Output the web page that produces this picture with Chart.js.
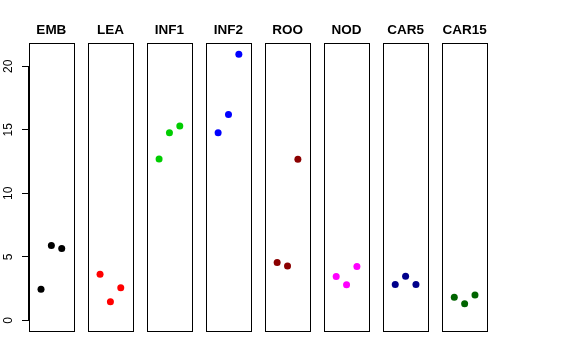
<!DOCTYPE html>
<html>
<head>
<meta charset="utf-8">
<script src="https://cdn.jsdelivr.net/npm/chart.js@4/dist/chart.umd.min.js"></script>
<style>
html,body{margin:0;padding:0;background:#fff;}
#wrap{width:576px;height:360px;position:relative;}
</style>
</head>
<body>
<div id="wrap"><canvas id="c" width="576" height="360"></canvas></div>
<script>
const categories = ['EMB','LEA','INF1','INF2','ROO','NOD','CAR5','CAR15'];
const valsEMB   = [2.44, 5.90, 5.66];
const valsLEA   = [3.62, 1.46, 2.56];
const valsINF1  = [12.70, 14.78, 15.30];
const valsINF2  = [14.78, 16.20, 20.96];
const valsROO   = [4.56, 4.27, 12.68];
const valsNOD   = [3.46, 2.80, 4.24];
const valsCAR5  = [2.83, 3.48, 2.83];
const valsCAR15 = [1.81, 1.31, 1.99];
const yTicks = [0, 5, 10, 15, 20];

const seriesValues = [valsEMB, valsLEA, valsINF1, valsINF2, valsROO, valsNOD, valsCAR5, valsCAR15];
const colors = ['#000000','#FF0000','#00CD00','#0000FF','#8B0000','#FF00FF','#00008B','#006400'];

const PANEL_STEP = 5.7;   // x-units between panel centres
const HALF = 2.16;        // half width of each panel box in x-units
const center = i => 2 + i * PANEL_STEP;

const datasets = categories.map((cat, i) => ({
  label: cat,
  data: seriesValues[i].map((v, j) => ({x: center(i) - 1 + j, y: v})),
  backgroundColor: colors[i],
  borderColor: colors[i],
  pointRadius: 3.5,
  pointHoverRadius: 3.5,
  borderWidth: 0
}));

const panels = {
  id: 'panels',
  afterDatasetsDraw(chart) {
    const {ctx, chartArea, scales} = chart;
    const xs = scales.x, ys = scales.y;
    ctx.save();
    ctx.strokeStyle = '#000';
    ctx.lineWidth = 1;
    categories.forEach((cat, i) => {
      const l = Math.round(xs.getPixelForValue(center(i) - HALF)) + 0.5;
      const r = Math.round(xs.getPixelForValue(center(i) + HALF)) + 0.5;
      const t = Math.round(chartArea.top) + 0.5;
      const b = Math.round(chartArea.bottom) + 0.5;
      ctx.strokeRect(l, t, r - l, b - t);
      ctx.fillStyle = '#000';
      ctx.font = 'bold 13.5px "Liberation Sans", Arial, sans-serif';
      ctx.textAlign = 'center';
      ctx.textBaseline = 'alphabetic';
      ctx.fillText(cat, xs.getPixelForValue(center(i)), 34);
    });
    // y axis line from first to last tick
    const ax = Math.round(chartArea.left) - 0.5;
    ctx.beginPath();
    ctx.moveTo(ax, ys.getPixelForValue(yTicks[0]));
    ctx.lineTo(ax, ys.getPixelForValue(yTicks[yTicks.length - 1]));
    ctx.stroke();
    ctx.restore();
  }
};

new Chart(document.getElementById('c'), {
  type: 'scatter',
  data: {datasets},
  options: {
    responsive: false,
    animation: false,
    devicePixelRatio: 1,
    layout: {padding: {left: 0, right: 89, top: 43, bottom: 29}},
    plugins: {legend: {display: false}, tooltip: {enabled: false}},
    scales: {
      x: {
        type: 'linear',
        min: center(0) - HALF,
        max: center(categories.length - 1) + HALF,
        display: false
      },
      y: {
        type: 'linear',
        min: -0.84,
        max: 21.84,
        afterBuildTicks(scale) { scale.ticks = yTicks.map(v => ({value: v})); },
        afterFit(scale) { scale.width = 29; },
        border: {display: false},
        grid: {drawOnChartArea: false, drawTicks: true, tickLength: 7, color: '#000', lineWidth: 1},
        ticks: {
          minRotation: 90, maxRotation: 90,
          crossAlign: 'center',
          color: '#000',
          padding: 7,
          font: {family: '"Liberation Sans", Arial, sans-serif', size: 12},
          callback: v => String(v)
        }
      }
    }
  },
  plugins: [panels]
});
</script>
</body>
</html>
